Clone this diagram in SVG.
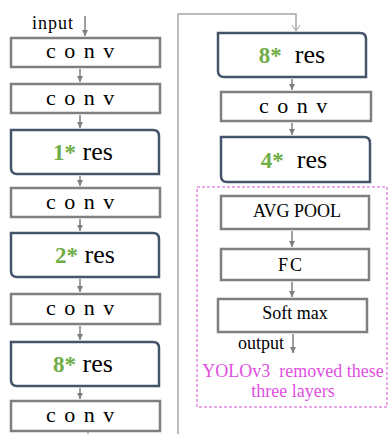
<svg xmlns="http://www.w3.org/2000/svg" width="390" height="434" viewBox="0 0 390 434">
  <defs>
    <marker id="arr" markerWidth="10" markerHeight="10" refX="8" refY="5" orient="auto" markerUnits="userSpaceOnUse" viewBox="0 0 10 10">
      <path d="M2,2 L8,5 L2,8 Z" fill="#7f7f7f"/>
    </marker>
    <marker id="open" markerWidth="10" markerHeight="10" refX="8" refY="5" orient="auto" markerUnits="userSpaceOnUse" viewBox="0 0 10 10">
      <path d="M2,1 L8,5 L2,9" fill="none" stroke="#a6a6a6" stroke-width="1"/>
    </marker>
    <style>
      .box { fill: #ffffff; stroke: #7f7f7f; stroke-width: 2.5; }
      .res { fill: #ffffff; stroke: #44546a; stroke-width: 2.5; }
      text { font-family: "Liberation Serif", "Times New Roman", serif; fill: #000000; }
      .conv { font-size: 22px; letter-spacing: 1.5px; }
      .rest { font-size: 26px; }
      .num { font-size: 23px; font-weight: bold; fill: #70ad47; }
      .small { font-size: 18px; }
      .mag { font-size: 18px; fill: #e14fe1; }
      .link { stroke: #7f7f7f; stroke-width: 1.5; fill: none; }
    </style>
  </defs>

  <g font-family="Liberation Serif, Times New Roman, serif">
  <text class="small" x="32" y="29" letter-spacing="1">input</text>
  <text class="small" x="238" y="349">output</text>

  <!-- left column -->
  <g id="conv1">
    <rect class="box" x="11" y="38" width="149" height="29"/>
    <text class="conv" x="81" y="58" text-anchor="middle">c o n v</text>
  </g>
  <g id="conv2">
    <rect class="box" x="11" y="84" width="149" height="29"/>
    <text class="conv" x="81" y="105" text-anchor="middle">c o n v</text>
  </g>
  <g id="res1">
    <path class="res" d="M11,130 H153 Q159,130 159,136 V174 H17 Q11,174 11,168 Z"/>
    <text x="83" y="160" text-anchor="middle"><tspan class="num">1*</tspan><tspan class="rest"> res</tspan></text>
  </g>
  <g id="conv3">
    <rect class="box" x="11" y="188" width="149" height="29"/>
    <text class="conv" x="81" y="209" text-anchor="middle">c o n v</text>
  </g>
  <g id="res2">
    <path class="res" d="M11,233 H153 Q159,233 159,239 V277 H17 Q11,277 11,271 Z"/>
    <text x="85" y="263" text-anchor="middle"><tspan class="num">2*</tspan><tspan class="rest"> res</tspan></text>
  </g>
  <g id="conv4">
    <rect class="box" x="11" y="294" width="149" height="30"/>
    <text class="conv" x="81" y="315" text-anchor="middle">c o n v</text>
  </g>
  <g id="res3">
    <path class="res" d="M11,342 H153 Q159,342 159,348 V386 H17 Q11,386 11,380 Z"/>
    <text x="83" y="372" text-anchor="middle"><tspan class="num">8*</tspan><tspan class="rest"> res</tspan></text>
  </g>
  <g id="conv5">
    <rect class="box" x="11" y="401" width="149" height="30"/>
    <text class="conv" x="81" y="422" text-anchor="middle">c o n v</text>
  </g>

  <!-- right column -->
  <g id="res4">
    <path class="res" d="M218,33 H360 Q366,33 366,39 V77 H224 Q218,77 218,71 Z"/>
    <text x="292" y="63" text-anchor="middle" xml:space="preserve"><tspan class="num">8*</tspan><tspan class="rest">  res</tspan></text>
  </g>
  <g id="conv6">
    <rect class="box" x="221" y="92" width="150" height="29"/>
    <text class="conv" x="294" y="113" text-anchor="middle">c o n v</text>
  </g>
  <g id="res5">
    <path class="res" d="M221,137 H364 Q370,137 370,143 V182 H227 Q221,182 221,176 Z"/>
    <text x="294" y="168" text-anchor="middle" xml:space="preserve"><tspan class="num">4*</tspan><tspan class="rest">  res</tspan></text>
  </g>

  <!-- removed head -->
  <g id="removed">
    <rect x="197" y="187" width="190" height="220" fill="none" stroke="#d94fd9" stroke-width="1" stroke-dasharray="3,2"/>
    <text class="mag" x="293" y="377" text-anchor="middle" xml:space="preserve">YOLOv3  removed these</text>
    <text class="mag" x="293" y="397" text-anchor="middle">three layers</text>
  </g>
  <g id="avgpool">
    <rect class="box" x="221" y="196" width="148" height="33"/>
    <text class="small" x="297" y="217" text-anchor="middle">AVG POOL</text>
  </g>
  <g id="fc">
    <rect class="box" x="221" y="249" width="148" height="31"/>
    <text class="small" x="291" y="271" text-anchor="middle" letter-spacing="2">FC</text>
  </g>
  <g id="softmax">
    <rect class="box" x="218" y="299" width="149" height="33"/>
    <text class="small" x="295" y="319" text-anchor="middle">Soft max</text>
  </g>
  </g>

  <!-- connectors -->
  <g id="connectors">
    <line class="link" x1="85" y1="16" x2="85" y2="36" marker-end="url(#arr)"/>
    <line class="link" x1="80" y1="69" x2="80" y2="82" marker-end="url(#arr)"/>
    <line class="link" x1="80" y1="115" x2="80" y2="128" marker-end="url(#arr)"/>
    <line class="link" x1="80" y1="176" x2="80" y2="186" marker-end="url(#arr)"/>
    <line class="link" x1="80" y1="219" x2="80" y2="231" marker-end="url(#arr)"/>
    <line class="link" x1="80" y1="279" x2="80" y2="292" marker-end="url(#arr)"/>
    <line class="link" x1="80" y1="326" x2="80" y2="340" marker-end="url(#arr)"/>
    <line class="link" x1="80" y1="388" x2="80" y2="399" marker-end="url(#arr)"/>
    <line x1="88" y1="432" x2="88" y2="434" stroke="#a6a6a6" stroke-width="1.5"/>
    <polyline points="178,434 178,14 296,14 296,31" fill="none" stroke="#a6a6a6" stroke-width="1.5" marker-end="url(#open)"/>
    <line class="link" x1="292" y1="79" x2="292" y2="90" marker-end="url(#arr)"/>
    <line class="link" x1="292" y1="123" x2="292" y2="135" marker-end="url(#arr)"/>
    <line class="link" x1="292" y1="231" x2="292" y2="247" marker-end="url(#arr)"/>
    <line class="link" x1="292" y1="282" x2="292" y2="297" marker-end="url(#arr)"/>
    <line class="link" x1="293" y1="334" x2="293" y2="353" marker-end="url(#arr)"/>
  </g>
</svg>
